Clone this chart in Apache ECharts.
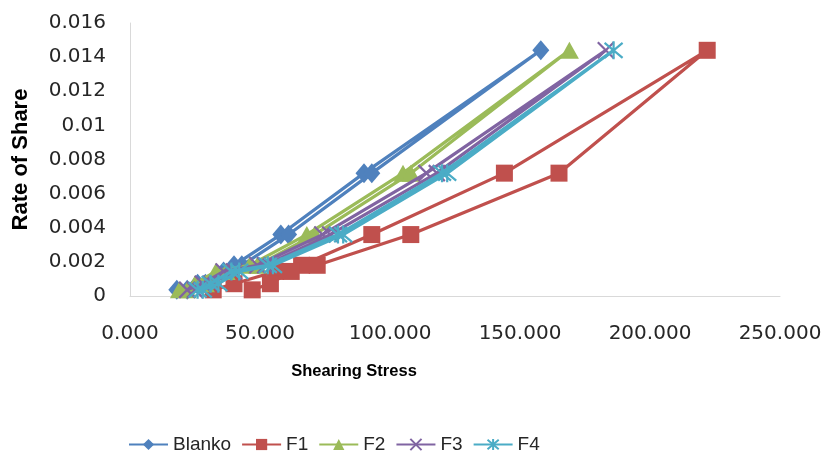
<!DOCTYPE html>
<html>
<head>
<meta charset="utf-8">
<script src="https://cdn.jsdelivr.net/npm/echarts@6/dist/echarts.min.js"></script>
<style>html,body{margin:0;padding:0;background:#fff}#c{width:831px;height:455px}</style>
</head>
<body>
<div id="c"></div>
<script>
var seriesNames = ['Blanko', 'F1', 'F2', 'F3', 'F4'];
var xTicks = [0, 50, 100, 150, 200, 250];
var yTicks = [0, 0.002, 0.004, 0.006, 0.008, 0.01, 0.012, 0.014, 0.016];

var blanko = [[18,0.00036],[26,0.00072],[36,0.00144],[40,0.0018],[58,0.0036],[90,0.0072],[158,0.0144],
              [93,0.0072],[61,0.0036],[43,0.0018],[39,0.00144],[29,0.00072],[22,0.00036]];
var f1 = [[32,0.00036],[40,0.00072],[56,0.00144],[66,0.0018],[93,0.0036],[144,0.0072],[222,0.0144],
          [165,0.0072],[108,0.0036],[72,0.0018],[62,0.00144],[54,0.00072],[47,0.00036]];
var f2 = [[19,0.00036],[25,0.00072],[33,0.00144],[46,0.0018],[68,0.0036],[105,0.0072],[169,0.0144],
          [108,0.0072],[71,0.0036],[49,0.0018],[37,0.00144],[29,0.00072],[22,0.00036]];
var f3 = [[22,0.00036],[28,0.00072],[36,0.00144],[49,0.0018],[74,0.0036],[114,0.0072],[183,0.0144],
          [118,0.0072],[77,0.0036],[52,0.0018],[40,0.00144],[31,0.00072],[25,0.00036]];
var f4 = [[26,0.00036],[31,0.00072],[39,0.00144],[53,0.0018],[80,0.0036],[120,0.0072],[186,0.0144],
          [122,0.0072],[82,0.0036],[55,0.0018],[42,0.00144],[34,0.00072],[28,0.00036]];

var colors = ['#4F81BD', '#C0504D', '#9BBB59', '#8064A2', '#4BACC6'];
var symbols = ['diamond', 'rect', 'triangle',
  'path://M0,0L10,10M10,0L0,10',
  'path://M0,0L10,10M10,0L0,10M5,-1L5,11'];
var sizes = [[17,20], 17, [19,17], 16, 18];
var dataSets = [blanko, f1, f2, f3, f4];

var chart = echarts.init(document.getElementById('c'), null, {renderer: 'canvas'});
var series = dataSets.map(function (d, i) {
  var isPath = i >= 3;
  return {
    name: seriesNames[i],
    type: 'line',
    data: d,
    symbol: symbols[i],
    symbolSize: sizes[i],
    showAllSymbol: true,
    lineStyle: {color: colors[i], width: 3.2},
    itemStyle: isPath ? {color: colors[i], borderColor: colors[i], borderWidth: 2.2} : {color: colors[i], borderWidth: 0},
    emphasis: {disabled: true},
    animation: false,
    z: 2 + i
  };
});

chart.setOption({
  animation: false,
  color: colors,
  grid: {left: 130, right: 51, top: 23, bottom: 159, containLabel: false},
  xAxis: {
    type: 'value', min: xTicks[0], max: xTicks[xTicks.length - 1], interval: 50,
    name: 'Shearing Stress', nameLocation: 'middle', nameGap: 67,
    nameTextStyle: {fontFamily: 'Liberation Sans', fontWeight: 'bold', fontSize: 16.5, color: '#000', padding: [0, 202, 0, 0]},
    axisLine: {show: true, lineStyle: {color: '#D9D9D9', width: 1}},
    axisTick: {show: false},
    splitLine: {show: false},
    axisLabel: {fontFamily: 'DejaVu Sans', fontSize: 20, color: '#262626', margin: 28,
      formatter: function (v) { return v.toFixed(3); }}
  },
  yAxis: {
    type: 'value', min: yTicks[0], max: yTicks[yTicks.length - 1], interval: 0.002,
    name: 'Rate of Share', nameLocation: 'middle', nameGap: 98, nameRotate: 90,
    nameTextStyle: {fontFamily: 'Liberation Sans', fontWeight: 'bold', fontSize: 22, color: '#000'},
    axisLine: {show: true, lineStyle: {color: '#D9D9D9', width: 1}},
    axisTick: {show: false},
    splitLine: {show: false},
    axisLabel: {fontFamily: 'DejaVu Sans', fontSize: 20, color: '#262626', margin: 24,
      formatter: function (v) { return String(parseFloat(v.toFixed(3))); }}
  },
  legend: {
    data: seriesNames,
    left: 128, top: 435, padding: 0,
    itemWidth: 39, itemHeight: 14, itemGap: 10,
    textStyle: {fontFamily: 'Liberation Sans', fontSize: 19, color: '#262626'}
  },
  series: series
});
</script>
</body>
</html>
